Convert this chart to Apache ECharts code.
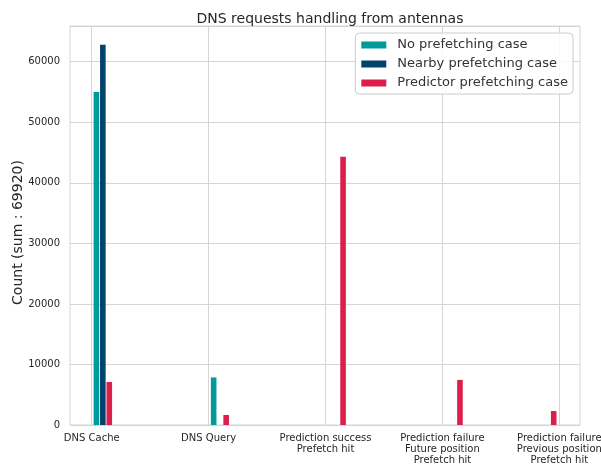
<!DOCTYPE html>
<html>
<head>
<meta charset="utf-8">
<script src="https://cdn.jsdelivr.net/npm/echarts@6/dist/echarts.min.js"></script>
<style>html,body{margin:0;padding:0;background:#fff}#c{width:601px;height:466px}</style>
</head>
<body>
<div id="c"></div>
<script>
var categories = ["DNS Cache", "DNS Query", "Prediction success\nPrefetch hit", "Prediction failure\nFuture position\nPrefetch hit", "Prediction failure\nPrevious position\nPrefetch hit"];
var seriesNames = ["No prefetching case", "Nearby prefetching case", "Predictor prefetching case"];
var noPrefetching = [55000, 7850, 0, 0, 0];
var nearbyPrefetching = [62800, 0, 0, 0, 0];
var predictorPrefetching = [7100, 1650, 44300, 7450, 2300];
var yTicks = [0, 10000, 20000, 30000, 40000, 50000, 60000];

// layout (bar offsets from each category tick, in category units)
var offsets = [
  [0.04, 0.043, 0.04, 0.04, 0.04],
  [0.095, 0.095, 0.095, 0.095, 0.095],
  [0.15, 0.15, 0.15, 0.15, -0.048]
];
var colors = ['#009a9c', '#00446e', '#dc1e4b'];
var allData = [noPrefetching, nearbyPrefetching, predictorPrefetching];

var chart = echarts.init(document.getElementById('c'), null, {renderer: 'canvas'});
var font = 'DejaVu Sans';
var series = allData.map(function (arr, s) {
  return {
    name: seriesNames[s],
    type: 'bar',
    barWidth: 5.6,
    barGap: '-100%',
    itemStyle: {color: colors[s]},
    data: arr.map(function (v, i) { return [i + offsets[s][i], v]; })
  };
});
chart.setOption({
  animation: false,
  textStyle: {fontFamily: font},
  title: {
    text: 'DNS requests handling from antennas',
    left: 325, top: 7, textAlign: 'center',
    textStyle: {fontFamily: font, fontSize: 14, fontWeight: 'normal', color: '#262626'}
  },
  legend: {
    orient: 'vertical', top: 33, right: 28,
    padding: [5, 5, 4, 6],
    itemWidth: 25, itemHeight: 7, itemGap: 5,
    icon: 'rect',
    borderColor: '#cccccc', borderWidth: 1, borderRadius: 4,
    backgroundColor: 'rgba(255,255,255,0.85)',
    textStyle: {fontFamily: font, fontSize: 13, color: '#333333', lineHeight: 14, padding: [0, 0, 0, 6]},
    data: seriesNames
  },
  grid: {left: 70, right: 21, top: 26, bottom: 41, show: true, borderColor: '#d5d5d5', borderWidth: 1,
         containLabel: false, outerBoundsMode: 'none'},
  xAxis: {
    type: 'value', min: -0.186, max: 4.177,
    axisLine: {show: false},
    axisTick: {show: false, customValues: [0, 1, 2, 3, 4]},
    splitLine: {show: true, lineStyle: {color: '#d5d5d5', width: 1}},
    axisLabel: {
      customValues: [0, 1, 2, 3, 4],
      formatter: function (v) { return categories[Math.round(v)]; },
      fontFamily: font, fontSize: 10, color: '#262626', lineHeight: 11, margin: 8,
      hideOverlap: false
    }
  },
  yAxis: {
    type: 'value', min: 0, max: 65900, interval: 10000,
    name: 'Count (sum : 69920)', nameLocation: 'middle', nameGap: 45, nameMoveOverlap: false,
    nameTextStyle: {fontFamily: font, fontSize: 14, color: '#262626', padding: [0, 14, 0, 0]},
    axisLine: {show: false}, axisTick: {show: false},
    splitLine: {show: true, lineStyle: {color: '#d5d5d5', width: 1}},
    axisLabel: {
      fontFamily: font, fontSize: 10, color: '#262626', margin: 10,
      showMaxLabel: false,
      formatter: function (v) { return yTicks.indexOf(v) >= 0 ? String(v) : ''; }
    }
  },
  series: series
});
</script>
</body>
</html>
